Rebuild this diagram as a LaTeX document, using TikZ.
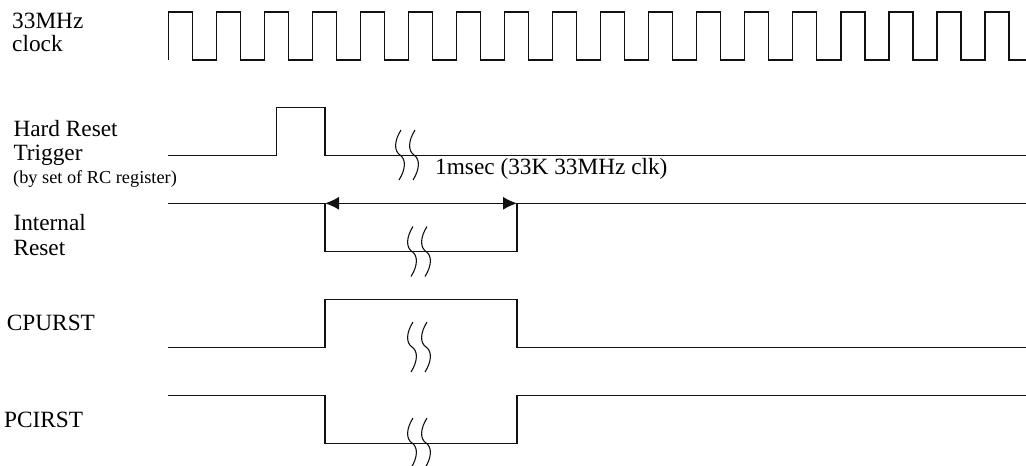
\documentclass[tikz,border=0pt]{standalone}
\usepackage{fontspec}
\setmainfont{Liberation Serif}
\usetikzlibrary{arrows.meta}

\definecolor{trace}{HTML}{111111}

% break mark (two wavy strokes) centred at (#1,#2)
\newcommand{\breakmark}[2]{%
  \foreach \dx in {-7,7}
    \draw[brk] ({#1+\dx+1},{#2-25}) .. controls ({#1+\dx-6},{#2-14}) and ({#1+\dx-6},{#2-4}) .. ({#1+\dx},{#2})
      .. controls ({#1+\dx+6},{#2+4}) and ({#1+\dx+6},{#2+14}) .. ({#1+\dx-1},{#2+25});
}

\begin{document}
\begin{tikzpicture}[
  x=1pt, y=-1pt,
  sig/.style={draw=trace, line width=1.3pt},
  brk/.style={draw=trace, line width=1.1pt},
  span/.style={draw=trace, line width=1.3pt, {Latex[length=14pt,width=13pt]}-{Latex[length=14pt,width=13pt]}},
  lbl/.style={anchor=base west, inner sep=0pt, font=\fontsize{23.3}{28}\selectfont},
  note/.style={anchor=base west, inner sep=0pt, font=\fontsize{18.3}{22}\selectfont},
]
\useasboundingbox (0,0) rectangle (1026,466);

% labels
\node[lbl] (clkA) at (12,28.3) {33MHz};
\node[lbl] (clkB) at (12,51.5) {clock};
\node[lbl] (hrtA) at (13.3,136.7) {Hard Reset};
\node[lbl] (hrtB) at (13.3,160) {Trigger};
\node[note] (hrtC) at (13,183.3) {(by set of RC register)};
\node[lbl] (irsA) at (13.3,230.5) {Internal};
\node[lbl] (irsB) at (13.3,255) {Reset};
\node[lbl] (cpu) at (6.7,330) {CPURST};
\node[lbl] (pci) at (4,427.7) {PCIRST};
\node[lbl] (dur) at (435,174) {1msec (33K 33MHz clk)};

% 33MHz clock
\draw[sig] (168.3,60) \foreach \k in {0,...,16} { -- ++(0,-48) -- ++(24.02,0) -- ++(0,48) -- ++(24.02,0) }
  -- ++(0,-48) -- ++(24.02,0) -- ++(0,48) -- (1026,60);

% hard reset trigger
\draw[sig] (168,155.7) -- (276.7,155.7) -- (276.7,107.3) -- (325,107.3) -- (325,155.7) -- (1026,155.7);
\breakmark{407}{155}

% internal reset
\draw[sig] (168,203.3) -- (325,203.3) -- (325,251.7) -- (517,251.7) -- (517,203.3) -- (1026,203.3);
\coordinate (spanL) at (325,203.3);
\coordinate (spanR) at (517,203.3);
\draw[span] (spanL) -- (spanR);
\breakmark{419}{251.5}

% CPURST
\draw[sig] (168,347.3) -- (325,347.3) -- (325,299.3) -- (517,299.3) -- (517,347.3) -- (1026,347.3);
\breakmark{419}{347}

% PCIRST
\draw[sig] (168,395.3) -- (325,395.3) -- (325,443.3) -- (517,443.3) -- (517,395.3) -- (1026,395.3);
\breakmark{419}{443}
\end{tikzpicture}
\end{document}
